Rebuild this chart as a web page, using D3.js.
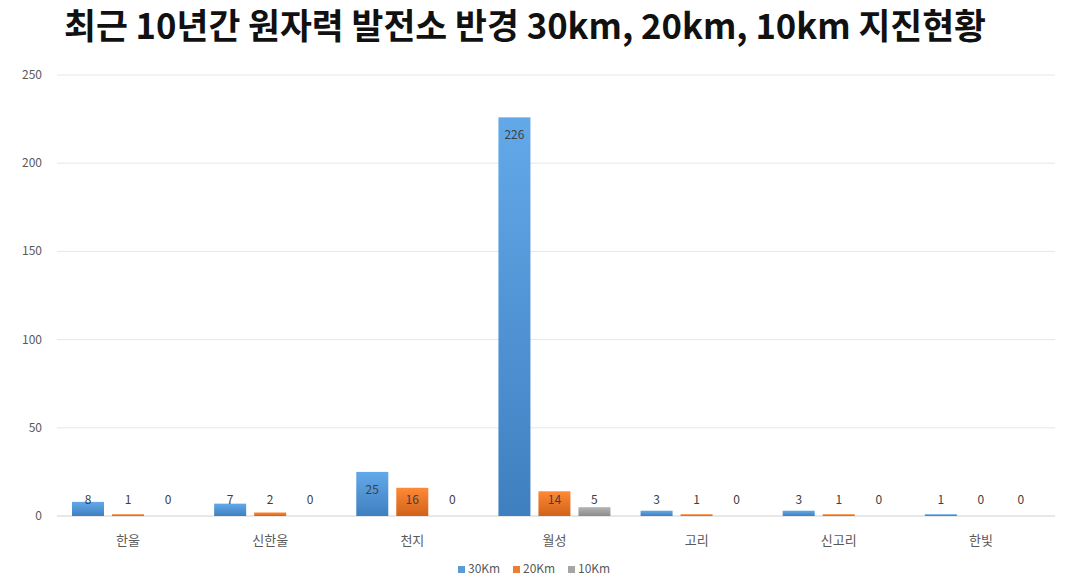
<!DOCTYPE html>
<html><head><meta charset="utf-8">
<script src="https://cdn.jsdelivr.net/npm/d3@7"></script>
<style>body{margin:0;background:#fff;font-family:"Noto Sans CJK KR","Noto Sans",sans-serif}</style>
</head><body>
<script>
const categories = ["한울", "신한울", "천지", "월성", "고리", "신고리", "한빛"];
const seriesNames = ["30Km", "20Km", "10Km"];
const km30 = [8, 7, 25, 226, 3, 3, 1];
const km20 = [1, 2, 16, 14, 1, 1, 0];
const km10 = [0, 0, 0, 5, 0, 0, 0];
const yTicks = [0, 50, 100, 150, 200, 250];

const w = 1067, h = 587;
const colors = ["#5b9bd5", "#ed7d31", "#a5a5a5"];
const dark = ["#3f7fc0", "#d0631a", "#8c8c8c"];
const svg = d3.select("body").append("svg").attr("width", w).attr("height", h);

const defs = svg.append("defs");
colors.forEach((c, i) => {
  const g = defs.append("linearGradient").attr("id", "g" + i)
    .attr("x1", 0).attr("y1", 0).attr("x2", 0).attr("y2", 1);
  g.append("stop").attr("offset", "0%").attr("stop-color", d3.color(c).brighter(0.25));
  g.append("stop").attr("offset", "100%").attr("stop-color", dark[i]);
});

svg.append("text").attr("x", 64).attr("y", 39)
  .attr("textLength", 922).attr("lengthAdjust", "spacingAndGlyphs")
  .style("font-size", "35px").style("font-weight", "bold").style("fill", "#111")
  .text("최근 10년간 원자력 발전소 반경 30km, 20km, 10km 지진현황");

const x = d3.scaleBand().domain(categories).range([57, 1052]);
const xs = d3.scaleBand().domain(seriesNames).range([15, 127]).paddingInner(0.2);
const y = d3.scaleLinear().domain([0, 250]).range([516, 75]);

svg.append("g").selectAll("line").data(yTicks).enter().append("line")
  .attr("x1", 57).attr("x2", 1055).attr("y1", d => y(d)).attr("y2", d => y(d))
  .attr("stroke", d => d === 0 ? "#d0d0d0" : "#e6e6e6");
svg.append("g").selectAll("text").data(yTicks).enter().append("text")
  .attr("x", 42).attr("y", d => y(d) + 4).attr("text-anchor", "end")
  .style("font-size", "12px").style("fill", "#595959").text(d => d);

svg.append("g").selectAll("text").data(categories).enter().append("text")
  .attr("x", d => x(d) + x.bandwidth() / 2).attr("y", 545).attr("text-anchor", "middle")
  .style("font-size", "13px").style("fill", "#595959").text(d => d);

const series = [km30, km20, km10];
series.forEach((vals, si) => {
  const g = svg.append("g");
  g.selectAll("rect").data(vals).enter().append("rect")
    .attr("x", (d, i) => x(categories[i]) + xs(seriesNames[si]))
    .attr("width", xs.bandwidth())
    .attr("y", d => y(d))
    .attr("height", d => y(0) - y(d))
    .attr("fill", `url(#g${si})`);
  g.selectAll("text").data(vals).enter().append("text")
    .attr("x", (d, i) => x(categories[i]) + xs(seriesNames[si]) + xs.bandwidth() / 2)
    .attr("y", d => Math.min(y(d) + 22, 504))
    .attr("text-anchor", "middle")
    .style("font-size", "12px").style("fill", "#404040").text(d => d);
});

const leg = svg.append("g").attr("transform", "translate(458,572)");
seriesNames.forEach((n, i) => {
  const lg = leg.append("g").attr("transform", `translate(${i * 55},0)`);
  lg.append("rect").attr("x", 0).attr("y", -6).attr("width", 7).attr("height", 7).attr("fill", colors[i]);
  lg.append("text").attr("x", 10).attr("y", 1).style("font-size", "12px").style("fill", "#595959").text(n);
});
</script>
</body></html>
